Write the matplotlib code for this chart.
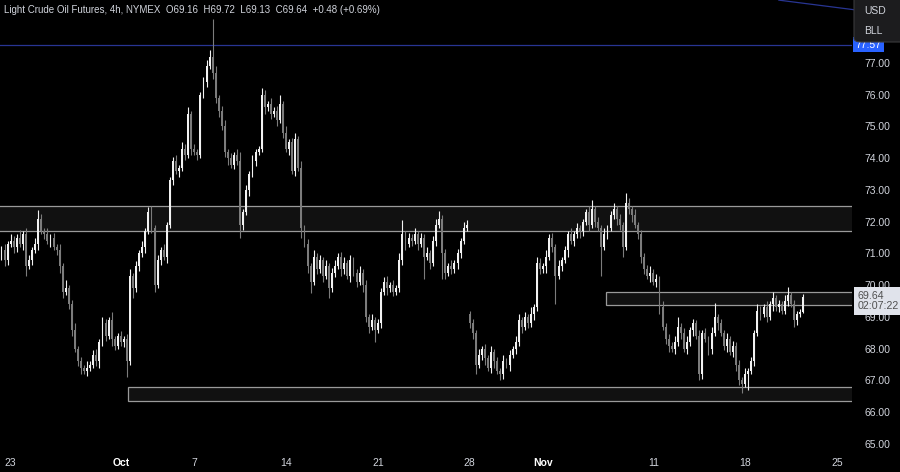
import matplotlib
matplotlib.use("Agg")
import matplotlib.pyplot as plt
import matplotlib.transforms as mtransforms
from matplotlib.patches import Rectangle, FancyBboxPatch
import numpy as np

plt.rcParams['font.family'] = ['Liberation Sans', 'DejaVu Sans']

# 4h candles (index 0 = last bars of Fri 20 Sep)
first_open = 70.9
gap_opens = {153: 69.1}  # weekend gap, Mon 28 Oct

closes = [
    71.1, 70.8, 71.3, 71.4, 71.2, 71.5, 71.3, 71.6, 70.6, 70.8,
    71.1, 71.3, 72.1, 71.7, 71.6, 71.4, 71.5, 71.2, 71.1, 70.6,
    69.8, 69.9, 69.4, 68.6, 68.0, 67.6, 67.4, 67.3, 67.4, 67.5,
    67.8, 67.6, 68.2, 68.8, 68.4, 68.9, 68.3, 68.1, 68.4, 68.2,
    68.3, 67.6, 70.3, 69.9, 70.6, 71.0, 71.2, 71.7, 72.3, 71.8,
    70.0, 70.8, 71.1, 70.9, 71.9, 73.3, 73.9, 73.6, 73.7, 74.3,
    74.1, 75.4, 74.3, 74.2, 74.1, 76.0, 76.4, 76.9, 77.2, 76.7,
    75.9, 75.5, 75.0, 74.2, 74.0, 73.8, 74.1, 73.9, 71.9, 72.3,
    73.0, 73.5, 73.9, 74.2, 74.3, 76.0, 75.6, 75.7, 75.4, 75.5,
    75.2, 75.7, 74.8, 74.3, 74.5, 73.6, 74.6, 73.7, 71.8, 71.3,
    70.6, 70.1, 70.9, 70.5, 70.8, 70.3, 70.6, 69.9, 70.4, 70.6,
    70.9, 70.5, 70.7, 70.3, 70.8, 70.4, 70.1, 70.4, 70.0, 69.0,
    68.7, 68.9, 68.6, 68.8, 69.8, 70.1, 69.9, 70.0, 69.8, 69.9,
    70.8, 71.6, 71.3, 71.5, 71.4, 71.6, 71.3, 71.5, 70.9, 71.0,
    70.7, 71.4, 71.9, 72.1, 71.0, 70.4, 70.6, 70.5, 70.7, 71.0,
    71.4, 71.8, 71.9, 68.8, 68.5, 67.5, 67.8, 68.0, 67.7, 67.4,
    67.9, 67.6, 67.3, 67.2, 67.6, 67.5, 67.8, 68.0, 68.2, 68.9,
    68.7, 69.0, 68.8, 69.1, 69.3, 70.7, 70.5, 70.6, 70.9, 71.5,
    71.2, 70.3, 70.6, 70.8, 71.1, 71.6, 71.4, 71.6, 71.8, 71.7,
    72.0, 72.3, 71.9, 72.4, 72.0, 71.8, 71.2, 71.6, 71.8, 72.2,
    72.4, 72.1, 71.9, 71.2, 72.6, 72.4, 72.2, 71.9, 71.6, 70.9,
    70.5, 70.3, 70.4, 70.1, 70.2, 69.3, 68.7, 68.3, 68.1, 68.0,
    68.2, 68.7, 68.5, 68.0, 68.2, 68.6, 68.8, 68.4, 67.2, 68.5,
    68.3, 68.0, 68.5, 69.0, 68.8, 68.5, 68.1, 68.3, 67.9, 68.1,
    67.5, 67.0, 66.9, 67.2, 67.3, 67.6, 68.5, 69.2, 69.1, 69.3,
    69.0, 69.4, 69.6, 69.3, 69.4, 69.2, 69.5, 69.7, 69.4, 68.9,
    69.1, 69.16, 69.64,
]

wick_up = [
    0.15, 0.2, 0.1, 0.2, 0.15, 0.1, 0.25, 0.1, 0.2, 0.15,
    0.1, 0.2, 0.27, 0.15, 0.1, 0.2, 0.1, 0.15, 0.1, 0.2,
    0.1, 0.25, 0.1, 0.15, 0.2, 0.1, 0.15, 0.1, 0.2, 0.1,
    0.15, 0.2, 0.1, 0.2, 0.15, 0.1, 0.25, 0.1, 0.1, 0.15,
    0.1, 0.15, 0.2, 0.1, 0.15, 0.1, 0.2, 0.1, 0.16, 0.2,
    0.1, 0.15, 0.1, 0.2, 0.1, 0.1, 0.15, 0.2, 0.1, 0.2,
    0.15, 0.2, 0.1, 0.15, 0.1, 0.1, 0.15, 0.2, 0.21, 1.2,
    0.2, 0.1, 0.15, 0.2, 0.1, 0.15, 0.1, 0.2, 0.3, 0.1,
    0.15, 0.1, 0.2, 0.1, 0.1, 0.2, 0.15, 0.1, 0.2, 0.1,
    0.15, 0.3, 0.1, 0.2, 0.1, 0.15, 0.2, 0.1, 0.2, 0.1,
    0.15, 0.1, 0.2, 0.1, 0.15, 0.1, 0.2, 0.1, 0.15, 0.2,
    0.1, 0.15, 0.2, 0.1, 0.15, 0.1, 0.1, 0.2, 0.1, 0.15,
    0.1, 0.2, 0.1, 0.15, 0.1, 0.15, 0.2, 0.1, 0.15, 0.1,
    0.2, 0.45, 0.1, 0.15, 0.1, 0.2, 0.1, 0.15, 0.1, 0.2,
    0.1, 0.15, 0.2, 0.25, 0.1, 0.15, 0.1, 0.2, 0.1, 0.15,
    0.1, 0.2, 0.15, 0.1, 0.15, 0.1, 0.2, 0.1, 0.15, 0.1,
    0.2, 0.1, 0.15, 0.1, 0.2, 0.1, 0.15, 0.1, 0.2, 0.2,
    0.1, 0.15, 0.1, 0.2, 0.1, 0.2, 0.15, 0.1, 0.2, 0.1,
    0.15, 0.1, 0.2, 0.1, 0.15, 0.1, 0.2, 0.1, 0.15, 0.1,
    0.1, 0.1, 0.2, 0.3, 0.1, 0.15, 0.1, 0.2, 0.1, 0.15,
    0.2, 0.1, 0.15, 0.1, 0.3, 0.15, 0.1, 0.2, 0.1, 0.15,
    0.1, 0.15, 0.2, 0.1, 0.15, 0.1, 0.2, 0.1, 0.15, 0.1,
    0.2, 0.3, 0.1, 0.15, 0.2, 0.1, 0.15, 0.1, 0.2, 0.1,
    0.15, 0.1, 0.2, 0.45, 0.1, 0.15, 0.1, 0.2, 0.1, 0.15,
    0.1, 0.15, 0.1, 0.2, 0.1, 0.15, 0.1, 0.2, 0.15, 0.1,
    0.2, 0.1, 0.2, 0.1, 0.15, 0.1, 0.2, 0.25, 0.1, 0.15,
    0.1, 0.1, 0.08,
]

wick_dn = [
    0.1, 0.2, 0.15, 0.1, 0.2, 0.15, 0.1, 0.2, 0.3, 0.1,
    0.15, 0.1, 0.2, 0.1, 0.15, 0.1, 0.2, 0.1, 0.15, 0.2,
    0.2, 0.1, 0.15, 0.2, 0.1, 0.15, 0.2, 0.1, 0.15, 0.1,
    0.1, 0.15, 0.2, 0.1, 0.15, 0.1, 0.2, 0.15, 0.1, 0.1,
    0.15, 0.5, 0.1, 0.3, 0.1, 0.15, 0.1, 0.2, 0.1, 0.15,
    0.2, 0.1, 0.15, 0.1, 0.2, 0.1, 0.15, 0.1, 0.2, 0.1,
    0.15, 0.1, 0.2, 0.1, 0.15, 0.1, 0.1, 0.15, 0.1, 0.2,
    0.15, 0.2, 0.1, 0.15, 0.2, 0.1, 0.15, 0.1, 0.4, 0.15,
    0.1, 0.2, 0.1, 0.15, 0.1, 0.1, 0.2, 0.1, 0.15, 0.1,
    0.2, 0.1, 0.15, 0.1, 0.2, 0.1, 0.15, 0.1, 0.3, 0.1,
    0.2, 0.35, 0.1, 0.15, 0.1, 0.2, 0.1, 0.3, 0.1, 0.15,
    0.1, 0.2, 0.15, 0.1, 0.2, 0.1, 0.15, 0.1, 0.2, 0.15,
    0.2, 0.1, 0.4, 0.1, 0.15, 0.1, 0.2, 0.1, 0.15, 0.1,
    0.1, 0.15, 0.2, 0.1, 0.15, 0.1, 0.2, 0.1, 0.7, 0.1,
    0.2, 0.1, 0.15, 0.1, 0.8, 0.2, 0.1, 0.15, 0.1, 0.2,
    0.15, 0.1, 0.1, 0.15, 0.2, 0.3, 0.1, 0.15, 0.2, 0.1,
    0.15, 0.2, 0.1, 0.2, 0.15, 0.1, 0.2, 0.1, 0.15, 0.1,
    0.2, 0.1, 0.15, 0.1, 0.2, 0.1, 0.15, 0.1, 0.2, 0.1,
    0.15, 0.9, 0.1, 0.15, 0.1, 0.2, 0.1, 0.15, 0.1, 0.2,
    0.15, 0.1, 0.2, 0.1, 0.15, 0.1, 0.9, 0.1, 0.15, 0.1,
    0.1, 0.2, 0.15, 0.3, 0.1, 0.15, 0.2, 0.1, 0.15, 0.2,
    0.15, 0.1, 0.2, 0.1, 0.15, 0.2, 0.1, 0.15, 0.2, 0.1,
    0.15, 0.1, 0.2, 0.1, 0.15, 0.1, 0.2, 0.1, 0.2, 0.15,
    0.1, 0.2, 0.15, 0.1, 0.2, 0.1, 0.15, 0.2, 0.1, 0.15,
    0.2, 0.15, 0.3, 0.1, 0.5, 0.1, 0.15, 0.1, 0.2, 0.1,
    0.15, 0.1, 0.2, 0.1, 0.15, 0.1, 0.1, 0.15, 0.1, 0.2,
    0.15, 0.1, 0.03,
]

# date labels on the time axis: (bar index, text)
date_idx = [3, 39, 63, 93, 123, 153, 177, 213, 243, 273]
date_txt = ["23", "Oct", "7", "14", "21", "28", "Nov", "11", "18", "25"]
month_txt = ["Oct", "Nov"]

# supply / demand zones: (start bar, low, high)
zones = [(-5, 71.72, 72.50), (197.5, 69.37, 69.79), (41.4, 66.36, 66.80)]
blue_level = 77.57
trend_x = [254, 280]
trend_y = [78.98, 78.66]

price_ticks = list(range(65, 78))
last_price = "69.64"
countdown = "02:07:22"
header = "Light Crude Oil Futures, 4h, NYMEX  O69.16  H69.72  L69.13  C69.64  +0.48 (+0.69%)"

BG = "#000000"
UP = "#f2f2f2"
DN = "#7c7c7c"
TXT = "#d1d4dc"

c = np.array(closes)
o = np.empty_like(c)
o[0] = first_open
o[1:] = c[:-1]
for k, v in gap_opens.items():
    o[k] = v
top = np.maximum(o, c)
bot = np.minimum(o, c)
hi = top + np.array(wick_up)
lo = bot - np.array(wick_dn)
x = np.arange(len(c))
up = c >= o

fig = plt.figure(figsize=(9, 4.72), dpi=100, facecolor=BG)
ax = fig.add_axes([0, 20 / 472, 852 / 900, 452 / 472], facecolor=BG)

for z0, zl, zh in zones:
    ax.add_patch(Rectangle((z0, zl), 300, zh - zl, facecolor="#111111",
                           edgecolor="#9a9a9a", linewidth=0.9, zorder=1))

ax.axhline(blue_level, color="#283593", linewidth=0.9, zorder=1)
ax.plot(trend_x, trend_y, color="#283593", linewidth=0.9, zorder=1, clip_on=False)

cols = np.where(up, UP, DN)
ax.vlines(x, lo, hi, colors=cols, linewidth=0.8, zorder=3)
ax.bar(x, np.maximum(top - bot, 0.03), bottom=bot, width=0.62,
       color=cols, linewidth=0, zorder=4)

ax.set_xlim(-0.49, 277.9)
ax.set_ylim(64.748, 78.984)
for s in ax.spines.values():
    s.set_visible(False)

ax.yaxis.tick_right()
ax.set_yticks(price_ticks)
ax.set_yticklabels([f"{p:.2f}" for p in price_ticks])
ax.tick_params(axis="y", length=0, pad=9, labelsize=7.5, labelcolor=TXT)
ax.set_xticks(date_idx)
ax.set_xticklabels(date_txt)
ax.tick_params(axis="x", length=0, pad=4, labelsize=7.5, labelcolor=TXT)
for lab in ax.get_xticklabels():
    if lab.get_text() in month_txt:
        lab.set_color("#ffffff")
        lab.set_fontweight("bold")

# price-scale labels
tr = mtransforms.blended_transform_factory(ax.transAxes, ax.transData)
ax.text(1.004, blue_level, "77.57", transform=tr, ha="left", va="center",
        fontsize=7.5, color="#ffffff", clip_on=False, zorder=10,
        bbox=dict(boxstyle="square,pad=0.25", facecolor="#2962ff", edgecolor="none"))
ax.text(1.007, 69.50, f"{last_price}\n{countdown}", transform=tr, ha="left",
        va="center", fontsize=7.7, color="#505050", linespacing=1.05,
        clip_on=False, zorder=10,
        bbox=dict(boxstyle="square,pad=0.35", facecolor="#e0e3eb", edgecolor="none"))

# currency dropdown
fig.patches.append(FancyBboxPatch((854 / 900, 430 / 472), 60 / 900, 60 / 472,
                                  boxstyle="round,pad=0,rounding_size=0.008",
                                  transform=fig.transFigure, facecolor="#1c1c1e",
                                  edgecolor="#3a3a3c", linewidth=0.8, zorder=20))
fig.text(864 / 900, 1 - 11 / 472, "USD", fontsize=7.5, color=TXT, va="center", zorder=21)
fig.text(864 / 900, 1 - 31 / 472, "BLL", fontsize=7.5, color=TXT, va="center", zorder=21)

fig.text(4 / 900, 1 - 10 / 472, header, fontsize=7.0, color=TXT, va="center", ha="left")

fig.savefig("out.png", dpi=100, facecolor=BG)
